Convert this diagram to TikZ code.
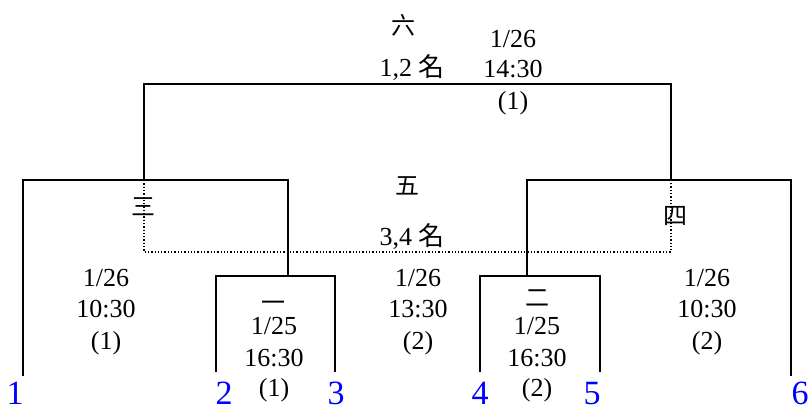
\documentclass[tikz,border=0pt]{standalone}
\usepackage{fontspec}
\setmainfont{Liberation Serif}
\newfontfamily\cjk{Noto Sans CJK TC}
\begin{document}
\begin{tikzpicture}[x=1pt,y=-1pt,
  bracket/.style={line width=1.8pt},
  dots/.style={line width=1.3pt, dotted},
  lbl/.style={anchor=base, inner sep=0pt, font=\fontsize{26}{30}\selectfont},
  cj/.style={anchor=base, inner sep=0pt, font=\fontsize{24}{30}\selectfont\cjk},
  seed/.style={anchor=base, inner sep=0pt, text=blue, font=\fontsize{34}{40}\selectfont}]
\useasboundingbox (0,0) rectangle (810,410);
% corners
\coordinate (tl) at (144,84);   \coordinate (tr) at (671,84);
\coordinate (tlb) at (144,180); \coordinate (trb) at (671,180);
\coordinate (L1) at (23,180);   \coordinate (L2) at (288,180);
\coordinate (L1b) at (23,376);  \coordinate (L2b) at (288,276);
\coordinate (S1) at (216,276);  \coordinate (S2) at (335,276);
\coordinate (S1b) at (216,372); \coordinate (S2b) at (335,372);
\coordinate (R1) at (527,180);  \coordinate (R2) at (791,180);
\coordinate (R1b) at (527,276); \coordinate (R2b) at (791,376);
\coordinate (T1) at (480,276);  \coordinate (T2) at (600,276);
\coordinate (T1b) at (480,372); \coordinate (T2b) at (600,372);
\coordinate (dl) at (144,252);  \coordinate (dr) at (671,252);
% dotted third place route
\draw[dots] (tlb) -- (dl) -- (dr) -- (trb);
% brackets
\draw[bracket] (tlb) -- (tl) -- (tr) -- (trb);
\draw[bracket] (L1b) -- (L1) -- (L2) -- (L2b);
\draw[bracket] (S1b) -- (S1) -- (S2) -- (S2b);
\draw[bracket] (R1b) -- (R1) -- (R2) -- (R2b);
\draw[bracket] (T1b) -- (T1) -- (T2) -- (T2b);
% top labels
\node[cj] (g6) at (403,34) {六};
\node[lbl] (p12) at (412,76) {1,2 {\cjk 名}};
\node[lbl] (f1) at (513,47) {1/26};
\node[lbl] (f2) at (513,77) {14:30};
\node[lbl] (f3) at (513,109) {(1)};
% third place
\node[cj] (g5) at (407,194) {五};
\node[lbl] (p34) at (412,245) {3,4 {\cjk 名}};
\node[cj] (g3) at (143,215) {三};
\node[cj] (g4) at (675,224) {四};
\node[lbl] (c1) at (418,286) {1/26};
\node[lbl] (c2) at (418,317) {13:30};
\node[lbl] (c3) at (418,349) {(2)};
% left semi
\node[lbl] (a1) at (106,286) {1/26};
\node[lbl] (a2) at (106,317) {10:30};
\node[lbl] (a3) at (106,349) {(1)};
% right semi
\node[lbl] (b1) at (707,286) {1/26};
\node[lbl] (b2) at (707,317) {10:30};
\node[lbl] (b3) at (707,349) {(2)};
% game one
\node[cj] (g1) at (273,311) {一};
\node[lbl] (d1) at (274,334) {1/25};
\node[lbl] (d2) at (274,366) {16:30};
\node[lbl] (d3) at (274,396) {(1)};
% game two
\node[cj] (g2) at (537,306) {二};
\node[lbl] (e1) at (537,334) {1/25};
\node[lbl] (e2) at (537,366) {16:30};
\node[lbl] (e3) at (537,396) {(2)};
% seeds
\node[seed] (n1) at (15,404) {1};
\node[seed] (n2) at (224,404) {2};
\node[seed] (n3) at (336,404) {3};
\node[seed] (n4) at (480,404) {4};
\node[seed] (n5) at (592,404) {5};
\node[seed] (n6) at (800,404) {6};
\end{tikzpicture}
\end{document}
